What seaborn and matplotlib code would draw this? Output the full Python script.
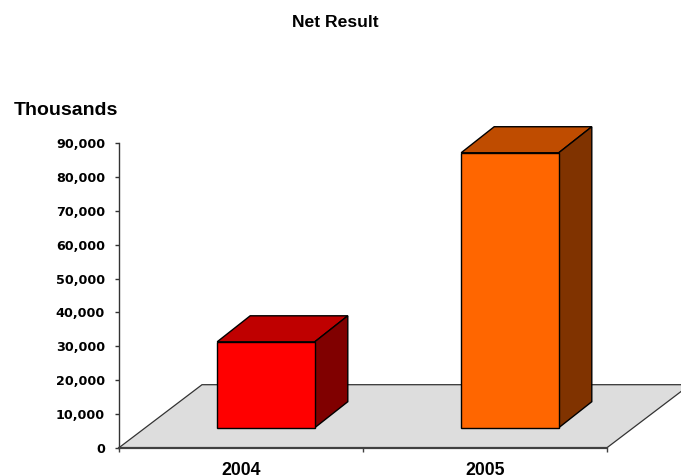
import matplotlib
matplotlib.use("Agg")
import matplotlib.pyplot as plt
import seaborn as sns
from matplotlib.patches import Polygon
from matplotlib.ticker import FuncFormatter

# Data (thousands)
years = ["2004", "2005"]
net_result = [25400, 81300]
front_colors = ["#FF0000", "#FF6600"]
top_colors = ["#BF0000", "#BF4C00"]
side_colors = ["#800000", "#803300"]
y_ticks = [0, 10000, 20000, 30000, 40000, 50000, 60000, 70000, 80000, 90000]

sns.set_style("white")
plt.rcParams["font.family"] = ["Liberation Sans", "DejaVu Sans"]
plt.rcParams["text.color"] = "black"
plt.rcParams["xtick.color"] = "black"
plt.rcParams["ytick.color"] = "black"

W, H = 681, 476
fig = plt.figure(figsize=(W / 100, H / 100), dpi=100)

# plot area in pixels
ax_left, ax_bottom_px, ax_w, ax_h = 119, 447.7, 488, 304.4
ax = fig.add_axes([ax_left / W, 1 - ax_bottom_px / H, ax_w / W, ax_h / H])

YMAX = 90000
ux = 2.0 / ax_w          # category units per pixel
uy = YMAX / ax_h         # value units per pixel

# oblique 3D offsets (pixels)
bar_shift = (25, 20)
bar_depth = (33, 26)
floor_depth = (83, 63)

# floor
fdx, fdy = floor_depth[0] * ux, floor_depth[1] * uy
floor = Polygon([(-0.5, 0), (1.5, 0), (1.5 + fdx, fdy), (-0.5 + fdx, fdy)],
                closed=True, facecolor="#DDDDDD", edgecolor="#333333",
                linewidth=0.9, clip_on=False, zorder=0.5)
ax.add_patch(floor)

# front faces of the columns
sns.barplot(x=years, y=net_result, hue=years, palette=front_colors,
            width=0.4, saturation=1, legend=False, ax=ax,
            edgecolor="black", linewidth=1.0, zorder=3)

sx, sy = bar_shift[0] * ux, bar_shift[1] * uy
dx, dy = bar_depth[0] * ux, bar_depth[1] * uy
bars = [p for p in ax.patches if p is not floor]
for i, p in enumerate(bars):
    p.set_x(p.get_x() + sx)
    p.set_y(p.get_y() + sy)
    p.set_zorder(3)
    x0 = p.get_x()
    x1 = x0 + p.get_width()
    b = p.get_y()
    t = b + p.get_height()
    top = Polygon([(x0, t), (x1, t), (x1 + dx, t + dy), (x0 + dx, t + dy)],
                  closed=True, facecolor=top_colors[i], edgecolor="black",
                  linewidth=1.0, zorder=2.5, clip_on=False)
    side = Polygon([(x1, b), (x1, t), (x1 + dx, t + dy), (x1 + dx, b + dy)],
                   closed=True, facecolor=side_colors[i], edgecolor="black",
                   linewidth=1.0, zorder=2.5, clip_on=False)
    ax.add_patch(top)
    ax.add_patch(side)

ax.set_xlim(-0.5, 1.5)
ax.set_ylim(0, YMAX)

for s in ["top", "right"]:
    ax.spines[s].set_visible(False)
ax.spines["left"].set_color("#333333")
ax.spines["left"].set_linewidth(1.0)
ax.spines["bottom"].set_color("#404040")
ax.spines["bottom"].set_linewidth(1.6)
ax.spines["bottom"].set_zorder(4)

ax.set_yticks(y_ticks)
ax.yaxis.set_major_formatter(FuncFormatter(lambda v, _: f"{v:,.0f}"))
ax.tick_params(axis="y", direction="out", length=3, width=1, pad=7,
               color="#333333", labelcolor="black", left=True)
for lab in ax.get_yticklabels():
    lab.set_fontfamily("DejaVu Sans")
    lab.set_fontweight("bold")
    lab.set_fontsize(9.2)

ax.set_xticks([0, 1])
ax.set_xticklabels(years, fontsize=12.7, fontweight="bold", color="black")
ax.set_xticks([-0.5, 0.5, 1.5], minor=True)
ax.tick_params(axis="x", which="major", length=0, pad=10)
ax.tick_params(axis="x", which="minor", direction="out", length=3, width=1,
               color="#404040", bottom=True)
ax.set_xlabel("")
ax.set_ylabel("")

fig.text(335.5 / W, 1 - 27.3 / H, "Net Result", ha="center", va="baseline",
         fontsize=12.6, fontweight="bold", color="black")
fig.text(14 / W, 1 - 115 / H, "Thousands", ha="left", va="baseline",
         fontsize=14, fontweight="bold", color="black")

fig.savefig("out.png", dpi=100, facecolor="white")
